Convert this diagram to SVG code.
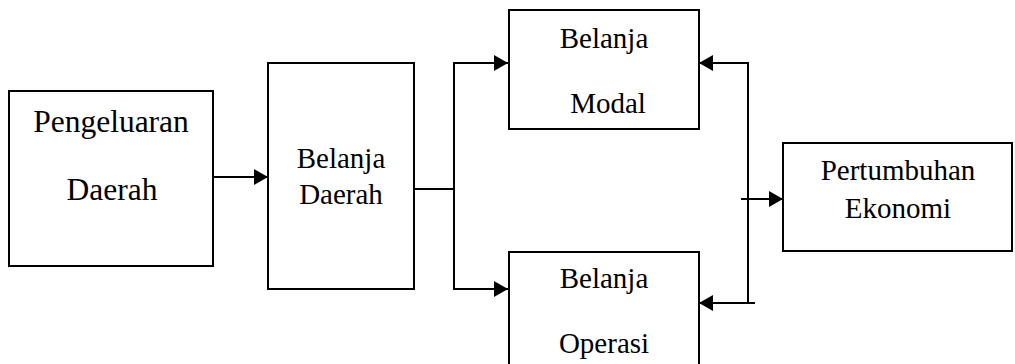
<svg xmlns="http://www.w3.org/2000/svg" width="1015" height="364" viewBox="0 0 1015 364">
<defs>
<marker id="ah" markerUnits="userSpaceOnUse" markerWidth="14" markerHeight="16" refX="14" refY="8" orient="auto">
<path d="M0,0 L14,8 L0,16 Z" fill="#000"/>
</marker>
</defs>
<style>
.box{fill:#fff;stroke:#000;stroke-width:2}
.t{fill:#000;text-anchor:middle}
.c{fill:none;stroke:#000;stroke-width:2}
</style>
<rect width="1015" height="364" fill="#fff"/>
<g id="connectors">
<line class="c" x1="213" y1="177" x2="268" y2="177" marker-end="url(#ah)"/>
<polyline class="c" points="414,189 454,189"/>
<line class="c" x1="454" y1="63" x2="454" y2="289"/>
<line class="c" x1="453" y1="63" x2="508" y2="63" marker-end="url(#ah)"/>
<line class="c" x1="453" y1="289" x2="508" y2="289" marker-end="url(#ah)"/>
<line class="c" x1="748" y1="62" x2="748" y2="304"/>
<line class="c" x1="749" y1="63" x2="699" y2="63" marker-end="url(#ah)"/>
<line class="c" x1="755" y1="303" x2="699" y2="303" marker-end="url(#ah)"/>
<line class="c" x1="741" y1="199" x2="783" y2="199" marker-end="url(#ah)"/>
</g>
<g font-family="'Liberation Serif', 'Times New Roman', serif">
<g id="pengeluaran-daerah" font-size="31.5">
<rect class="box" x="9" y="91" width="204" height="175"/>
<text class="t" x="111" y="132">Pengeluaran</text>
<text class="t" x="112" y="200">Daerah</text>
</g>
<g id="belanja-daerah" font-size="29">
<rect class="box" x="268" y="63" width="146" height="226"/>
<text class="t" x="341" y="168">Belanja</text>
<text class="t" x="341" y="204">Daerah</text>
</g>
<g id="belanja-modal" font-size="29">
<rect class="box" x="509" y="10" width="190" height="119"/>
<text class="t" x="604" y="48">Belanja</text>
<text class="t" x="608" y="113">Modal</text>
</g>
<g id="belanja-operasi" font-size="29">
<rect class="box" x="509" y="252" width="190" height="130"/>
<text class="t" x="604" y="288">Belanja</text>
<text class="t" x="604" y="353">Operasi</text>
</g>
<g id="pertumbuhan-ekonomi" font-size="29">
<rect class="box" x="783" y="143" width="229" height="108"/>
<text class="t" x="898" y="180">Pertumbuhan</text>
<text class="t" x="898" y="218">Ekonomi</text>
</g>
</g>
</svg>
